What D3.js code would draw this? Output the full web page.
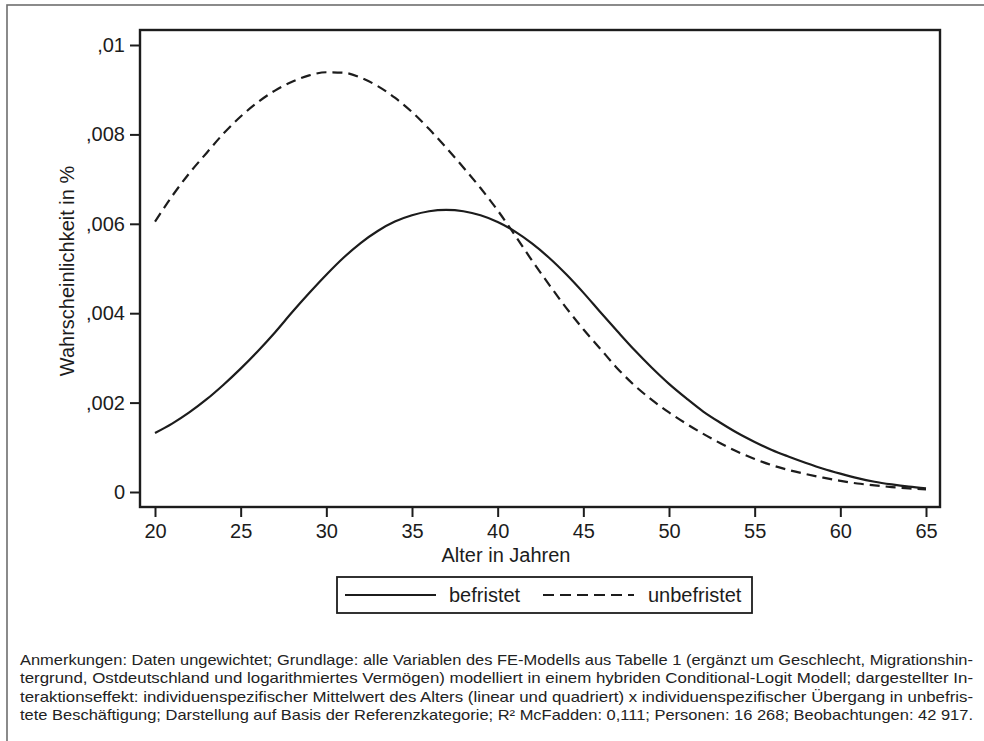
<!DOCTYPE html>
<html><head><meta charset="utf-8">
<script src="https://cdn.jsdelivr.net/npm/d3@7"></script>
<style>
html,body{margin:0;padding:0;background:#fff;}
svg{display:block;font-family:"Liberation Sans",Arial,Helvetica,sans-serif;}
</style></head>
<body>
<svg id="chart" width="984" height="741"></svg>
<script>
// ---- data ----
const ages = d3.range(20, 66);
const befristet = [1.32,1.53,1.78,2.07,2.40,2.76,3.15,3.57,4.02,4.45,4.86,5.24,5.57,5.84,6.05,6.19,6.28,6.31,6.28,6.19,6.04,5.83,5.56,5.24,4.87,4.46,4.02,3.59,3.17,2.78,2.42,2.10,1.80,1.55,1.32,1.12,0.94,0.79,0.65,0.52,0.41,0.31,0.23,0.17,0.12,0.08].map(v => v/1000);
const unbefristet = [6.05,6.62,7.13,7.58,8.02,8.40,8.72,8.98,9.18,9.32,9.39,9.38,9.27,9.08,8.82,8.50,8.12,7.70,7.26,6.80,6.30,5.75,5.18,4.64,4.12,3.64,3.20,2.76,2.38,2.06,1.78,1.53,1.30,1.09,0.90,0.74,0.60,0.49,0.40,0.32,0.25,0.19,0.15,0.11,0.08,0.06].map(v => v/1000);
const xTicks = [20,25,30,35,40,45,50,55,60,65];
const yTicks = [0,0.002,0.004,0.006,0.008,0.01];
const yTickLabels = ["0",",002",",004",",006",",008",",01"];
const seriesNames = ["befristet","unbefristet"];
const xTitle = "Alter in Jahren";
const yTitle = "Wahrscheinlichkeit in %";
const noteLines = [
 "Anmerkungen: Daten ungewichtet; Grundlage: alle Variablen des FE-Modells aus Tabelle 1 (ergänzt um Geschlecht, Migrationshin-",
 "tergrund, Ostdeutschland und logarithmiertes Vermögen) modelliert in einem hybriden Conditional-Logit Modell; dargestellter In-",
 "teraktionseffekt: individuenspezifischer Mittelwert des Alters (linear und quadriert) x individuenspezifischer Übergang in unbefris-",
 "tete Beschäftigung; Darstellung auf Basis der Referenzkategorie; R² McFadden: 0,111; Personen: 16 268; Beobachtungen: 42 917."
];

// ---- layout ----
const svg = d3.select("#chart");
const ink = "#1c1c1c";
const box = {l:140, t:30, r:940, b:507};
const x = d3.scaleLinear().domain([20,65]).range([155,926]);
const y = d3.scaleLinear().domain([0,0.01]).range([492,45]);

// outer frame
svg.append("rect").attr("x",7).attr("y",5).attr("width",1000).attr("height",800)
  .attr("fill","none").attr("stroke","#6e6e6e").attr("stroke-width",1.6);

// plot box
svg.append("rect").attr("x",box.l).attr("y",box.t).attr("width",box.r-box.l).attr("height",box.b-box.t)
  .attr("fill","none").attr("stroke",ink).attr("stroke-width",2.4);

// axes
const yAxis = d3.axisLeft(y).tickValues(yTicks).tickSize(10).tickPadding(5)
  .tickFormat((d,i) => yTickLabels[i]);
const gy = svg.append("g").attr("transform",`translate(${box.l},0)`).call(yAxis);
const xAxis = d3.axisBottom(x).tickValues(xTicks).tickSize(10).tickPadding(7).tickFormat(d3.format("d"));
const gx = svg.append("g").attr("transform",`translate(0,${box.b})`).call(xAxis);
[gx,gy].forEach(g => {
  g.select(".domain").remove();
  g.selectAll(".tick line").attr("stroke",ink).attr("stroke-width",2);
  g.selectAll(".tick text").attr("fill",ink).attr("font-size",20).attr("font-family","Liberation Sans, Arial, sans-serif");
});

// titles
svg.append("text").attr("x",506).attr("y",562).attr("text-anchor","middle")
  .attr("font-size",20).attr("fill",ink).text(xTitle);
svg.append("text").attr("transform","translate(74,271) rotate(-90)").attr("text-anchor","middle")
  .attr("font-size",20).attr("fill",ink).text(yTitle);

// lines
const line = d3.line().x((d,i) => x(ages[i])).y(d => y(d)).curve(d3.curveMonotoneX);
svg.append("path").datum(befristet).attr("d",line).attr("fill","none")
  .attr("stroke",ink).attr("stroke-width",2.2);
svg.append("path").datum(unbefristet).attr("d",line).attr("fill","none")
  .attr("stroke",ink).attr("stroke-width",2.2).attr("stroke-dasharray","10,6");

// legend
const lg = svg.append("g");
lg.append("rect").attr("x",337).attr("y",577).attr("width",415).attr("height",36)
  .attr("fill","none").attr("stroke",ink).attr("stroke-width",1.8);
lg.append("line").attr("x1",345).attr("x2",436).attr("y1",595).attr("y2",595)
  .attr("stroke",ink).attr("stroke-width",2);
lg.append("text").attr("x",449).attr("y",602).attr("font-size",20).attr("fill",ink).text(seriesNames[0]);
lg.append("line").attr("x1",543).attr("x2",634).attr("y1",595).attr("y2",595)
  .attr("stroke",ink).attr("stroke-width",2).attr("stroke-dasharray","11,6");
lg.append("text").attr("x",648).attr("y",602).attr("font-size",20).attr("fill",ink).text(seriesNames[1]);

// notes
svg.append("g").selectAll("text").data(noteLines).join("text")
  .attr("x",20).attr("y",(d,i) => 665 + i*18.4)
  .attr("font-size",14.2).attr("fill","#222")
  .attr("textLength",953).attr("lengthAdjust","spacingAndGlyphs")
  .text(d => d);
</script>
</body></html>
